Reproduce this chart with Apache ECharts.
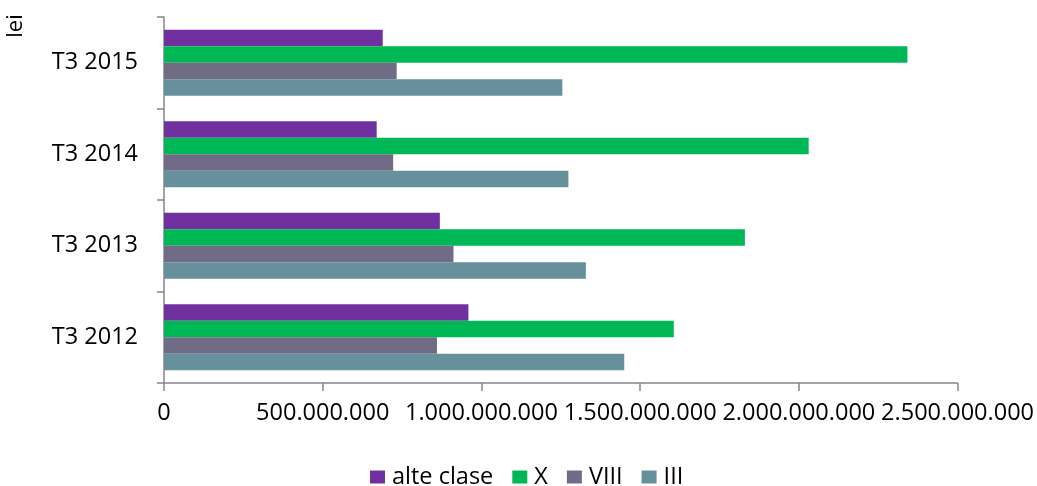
<!DOCTYPE html>
<html>
<head>
<meta charset="utf-8">
<script src="https://cdn.jsdelivr.net/npm/echarts@6/dist/echarts.min.js"></script>
<style>html,body{margin:0;padding:0;background:#fff}#c{width:1037px;height:486px}</style>
</head>
<body>
<div id="c"></div>
<script>
var categories = ['T3 2012', 'T3 2013', 'T3 2014', 'T3 2015'];
var seriesNames = ['alte clase', 'X', 'VIII', 'III'];
var alteClase = [959000000, 869000000, 670000000, 689000000];
var clasaX = [1606000000, 1830000000, 2031000000, 2342000000];
var clasaVIII = [860000000, 912000000, 722000000, 733000000];
var clasaIII = [1450000000, 1329000000, 1274000000, 1255000000];
var xTicks = [0, 500000000, 1000000000, 1500000000, 2000000000, 2500000000];
var unitLabel = 'lei';
var colors = ['#7030A0', '#00B755', '#716C85', '#66909B'];

var font = 'Open Sans';
var fs = 23.5;
function fmt(v) {
  return String(Math.round(v)).replace(/\B(?=(\d{3})+(?!\d))/g, '.');
}
var chart = echarts.init(document.getElementById('c'), null, {renderer: 'canvas'});
var values = [alteClase, clasaX, clasaVIII, clasaIII];
var series = seriesNames.map(function (n, i) {
  return {
    name: n, type: 'bar', data: values[i],
    itemStyle: {color: colors[i]},
    barGap: '0%', barCategoryGap: '28%',
    animation: false
  };
});
chart.setOption({
  animation: false,
  textStyle: {fontFamily: font},
  grid: {left: 164, right: 79, top: 17, bottom: 103, containLabel: false},
  graphic: [{
    type: 'text', x: 16, y: 26, rotation: Math.PI / 2,
    style: {text: unitLabel, fontFamily: font, fontSize: 22, fill: '#000', align: 'center', verticalAlign: 'middle'}
  }],
  legend: {
    data: seriesNames, top: 460, left: 365,
    itemWidth: 15, itemHeight: 13, itemGap: 19,
    icon: 'rect',
    textStyle: {fontFamily: font, fontSize: fs, color: '#000', padding: [0, 0, 0, 2]}
  },
  xAxis: {
    type: 'value', min: xTicks[0], max: xTicks[xTicks.length - 1], interval: xTicks[1] - xTicks[0],
    splitLine: {show: false},
    axisLine: {show: true, lineStyle: {color: '#868686', width: 1.5}},
    axisTick: {show: true, length: 8, lineStyle: {color: '#868686', width: 1.5}},
    axisLabel: {fontFamily: font, fontSize: fs, color: '#000', margin: 18, formatter: fmt}
  },
  yAxis: {
    type: 'category', data: categories,
    axisLine: {show: true, lineStyle: {color: '#868686', width: 1.5}},
    axisTick: {show: true, length: 7, alignWithLabel: false, lineStyle: {color: '#868686', width: 1.5}},
    axisLabel: {fontFamily: font, fontSize: fs, color: '#000', margin: 26}
  },
  series: series
});
</script>
</body>
</html>
